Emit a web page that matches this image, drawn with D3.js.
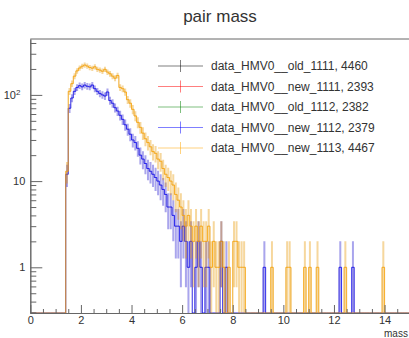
<!DOCTYPE html>
<html>
<head>
<meta charset="utf-8">
<script src="https://cdn.jsdelivr.net/npm/d3@7"></script>
<style>
  body { margin: 0; background: #fff; }
  svg { font-family: "Liberation Sans", Arial, Helvetica, sans-serif; }
</style>
</head>
<body>
<svg id="chart" width="409" height="338"></svg>
<script>
// histogram binning: 0.1 wide bins, dense part starts at 1.4
const binWidth = 0.1;
const binStart = 1.4;

const new1113Counts = [13, 110, 135, 165, 190, 205, 215, 222, 216, 208, 204, 212, 198, 194, 188, 198,
  184, 176, 165, 156, 168, 122, 118, 108, 88, 80, 68, 57, 48, 42, 36, 31, 28, 25, 22, 21, 18, 17,
  14, 12, 11, 10, 9, 7, 6, 5, 4, 3, 4, 3, 2, 3, 2, 3, 2, 2, 3, 1, 2, 1, 1, 2, 1, 0, 1, 0, 2, 2, 1, 1, 1];
const new1112Counts = [12, 70, 92, 110, 122, 128, 124, 130, 126, 124, 130, 118, 110, 104, 100, 97,
  108, 86, 80, 71, 65, 58, 52, 45, 40, 35, 30, 28, 24, 20, 18, 16, 14, 13, 12, 11, 10, 9, 8, 7, 5,
  5, 4, 3, 3, 2, 3, 2, 1, 2, 0, 1, 2, 1, 0, 1, 1, 0, 0, 0, 0, 2, 0, 1];
// single-entry bins in the tail (lower bin edge)
const new1113Tail = [9.5, 10.1, 10.2, 10.8, 11.0, 11.3, 12.4, 13.9];
const new1112Tail = [9.2, 12.2, 12.7];

// the other three sit underneath and coincide with the visible ones
const old1111Counts = new1113Counts, old1111Tail = new1113Tail;
const new1111Counts = new1112Counts, new1111Tail = new1112Tail;
const old1112Counts = new1112Counts, old1112Tail = new1112Tail;

const seriesNames = ["data_HMV0__old_1111, 4460", "data_HMV0__new_1111, 2393",
  "data_HMV0__old_1112, 2382", "data_HMV0__new_1112, 2379", "data_HMV0__new_1113, 4467"];
const seriesColors = ["#000000", "#ff0000", "#008000", "#0000ff", "#ffa500"];
// the covered histograms barely show through
const lineAlpha = [0.12, 0.12, 0.12, 0.75, 0.8];
const errAlpha = [0.05, 0.05, 0.05, 0.3, 0.35];

const xMajorTicks = [0, 2, 4, 6, 8, 10, 12, 14];
const yMajorTicks = [1, 10, 100];

const svg = d3.select("#chart");
const plotLeft = 30.3, plotRight = 420, plotTop = 39, plotBottom = 313;

const x = d3.scaleLinear().domain([0, 15.4]).range([plotLeft, plotRight]);
const y = d3.scaleLog().domain([0.295, 445]).range([plotBottom, plotTop]).clamp(true);

// title
svg.append("text")
  .attr("x", 220).attr("y", 22)
  .attr("text-anchor", "middle")
  .attr("font-size", 17).attr("fill", "#333")
  .text("pair mass");

svg.append("clipPath").attr("id", "clip")
  .append("rect").attr("x", plotLeft).attr("y", plotTop)
  .attr("width", plotRight - plotLeft).attr("height", plotBottom - plotTop + 1);

// build per-bin arrays for each histogram
function fullBins(counts, tail) {
  const nBins = Math.round(15.4 / binWidth);
  const arr = new Array(nBins).fill(0);
  const i0 = Math.round(binStart / binWidth);
  counts.forEach((c, i) => { arr[i0 + i] = c; });
  tail.forEach((t) => { arr[Math.round(t / binWidth)] += 1; });
  return arr;
}

const hists = [
  fullBins(old1111Counts, old1111Tail),
  fullBins(new1111Counts, new1111Tail),
  fullBins(old1112Counts, old1112Tail),
  fullBins(new1112Counts, new1112Tail),
  fullBins(new1113Counts, new1113Tail)
];

const yv = (v) => v > 0 ? y(v) : plotBottom;

const plot = svg.append("g").attr("clip-path", "url(#clip)");

hists.forEach((bins, k) => {
  const color = seriesColors[k];
  const g = plot.append("g");

  // error bars
  bins.forEach((v, i) => {
    if (v <= 0) return;
    const xc = x((i + 0.5) * binWidth);
    const err = Math.sqrt(v);
    g.append("line")
      .attr("x1", xc).attr("x2", xc)
      .attr("y1", yv(v - err)).attr("y2", yv(v + err))
      .attr("stroke", color).attr("stroke-opacity", errAlpha[k])
      .attr("stroke-width", 2);
  });

  // step outline
  const path = d3.path();
  bins.forEach((v, i) => {
    const x0 = x(i * binWidth), x1 = x((i + 1) * binWidth);
    if (i === 0) path.moveTo(x0, yv(v)); else path.lineTo(x0, yv(v));
    path.lineTo(x1, yv(v));
  });
  g.append("path")
    .attr("d", path.toString())
    .attr("fill", "none")
    .attr("stroke", color).attr("stroke-opacity", lineAlpha[k])
    .attr("stroke-width", 1);
});

// frame top
svg.append("line").attr("x1", plotLeft).attr("x2", plotRight).attr("y1", plotTop).attr("y2", plotTop)
  .attr("stroke", "#666");

// x axis
const xMinor = d3.range(0, 15.5, 0.5).filter((t) => t % 2 !== 0);
svg.append("g")
  .attr("transform", `translate(0,${plotBottom})`)
  .call(d3.axisBottom(x).tickValues(xMinor).tickSize(-4).tickSizeOuter(0).tickFormat(""))
  .call((g) => g.selectAll("line,path").attr("stroke", "#666"));
svg.append("g")
  .attr("transform", `translate(0,${plotBottom})`)
  .call(d3.axisBottom(x).tickValues(xMajorTicks).tickSize(-8).tickSizeOuter(0).tickPadding(3).tickFormat(d3.format("d")))
  .call((g) => g.selectAll("line,path").attr("stroke", "#666"))
  .call((g) => g.selectAll("text").attr("font-size", 11).attr("fill", "#333")
    .attr("font-family", "Liberation Sans, Arial, sans-serif"));

svg.append("text")
  .attr("x", 384).attr("y", 337)
  .attr("font-size", 10).attr("fill", "#333")
  .text("mass");

// y axis
const yMinor = [];
[0.1, 1, 10, 100].forEach((d) => {
  for (let m = 2; m <= 9; m++) {
    const v = d * m;
    if (v >= 0.295 && v <= 445) yMinor.push(v);
  }
});
svg.append("g")
  .attr("transform", `translate(${plotLeft},0)`)
  .call(d3.axisLeft(y).tickValues(yMinor).tickSize(-6).tickSizeOuter(0).tickFormat(""))
  .call((g) => g.selectAll("line,path").attr("stroke", "#666"));
svg.append("g")
  .attr("transform", `translate(${plotLeft},0)`)
  .call(d3.axisLeft(y).tickValues(yMajorTicks).tickSize(-12).tickSizeOuter(0).tickPadding(5)
    .tickFormat((d) => d === 100 ? "10" : String(d)))
  .call((g) => g.selectAll("line,path").attr("stroke", "#666"))
  .call((g) => g.selectAll("text").attr("font-size", 11).attr("fill", "#333")
    .attr("font-family", "Liberation Sans, Arial, sans-serif")
    .each(function (d) {
      if (d === 100) {
        const t = d3.select(this).attr("dx", "-0.45em");
        t.append("tspan").attr("dy", "-0.45em").attr("font-size", 8).text("2");
      }
    }));

// legend
const legend = svg.append("g");
seriesNames.forEach((name, k) => {
  const ly = 66 + k * 20.5;
  const row = legend.append("g");
  row.append("line").attr("x1", 158).attr("x2", 203).attr("y1", ly).attr("y2", ly)
    .attr("stroke", seriesColors[k]).attr("stroke-opacity", 0.5);
  row.append("line").attr("x1", 180.5).attr("x2", 180.5).attr("y1", ly - 6).attr("y2", ly + 6)
    .attr("stroke", seriesColors[k]).attr("stroke-opacity", 0.5);
  row.append("text").attr("x", 211).attr("y", ly + 4)
    .attr("font-size", 12).attr("fill", "#333")
    .text(name);
});
</script>
</body>
</html>
